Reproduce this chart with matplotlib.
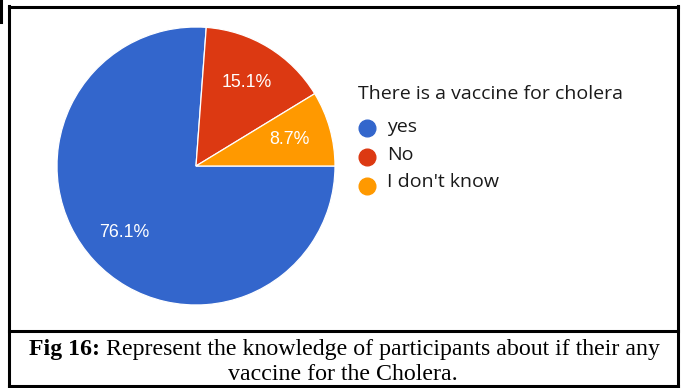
import matplotlib
matplotlib.use("Agg")
import matplotlib.pyplot as plt
from matplotlib.lines import Line2D
import numpy as np

# survey answers
answers = ["yes", "No", "I don't know"]
shares = [76.1, 15.1, 8.7]
colors = ["#3366CC", "#DC3912", "#FF9900"]
legend_title = "There is a vaccine for cholera"
caption_bold = "Fig 16:"
caption_rest = " Represent the knowledge of participants about if their any"
caption_line2 = "vaccine for the Cholera."

W, H = 681, 388
fig = plt.figure(figsize=(W / 100, H / 100), dpi=100)


def fx(px):
    return px / W


def fy(py):
    return 1 - py / H


# pie: centre (196,166), radius 139 px
cx, cy, r = 196, 166, 139
ax = fig.add_axes([fx(cx - r), fy(cy + r), 2 * r / W, 2 * r / H])
wedges, _ = ax.pie(shares, colors=colors, startangle=0, counterclock=False,
                   radius=1.0,
                   wedgeprops=dict(edgecolor="white", linewidth=0.9))
ax.set_xlim(-1, 1)
ax.set_ylim(-1, 1)
ax.set_aspect("equal")
ax.axis("off")

for w, v in zip(wedges, shares):
    mid = np.deg2rad((w.theta1 + w.theta2) / 2)
    ax.text(0.70 * np.cos(mid), 0.70 * np.sin(mid), f"{v}%",
            ha="center", va="center", color="white",
            fontsize=12.8, family="Liberation Sans")

# legend
fig.text(fx(358), fy(94), legend_title, ha="left", va="center",
         fontsize=14, family="Open Sans", color="#1a1a1a")
leg_y = [127, 155, 182]
dot_y = [128, 157, 186]
for name, col, ty, dy in zip(answers, colors, leg_y, dot_y):
    fig.add_artist(Line2D([fx(367)], [fy(dy)], marker="o", markersize=12,
                          color=col, linestyle="none",
                          transform=fig.transFigure))
    fig.text(fx(387), fy(ty), name, ha="left", va="center",
             fontsize=14, family="Open Sans", color="#1a1a1a")

# table frame
lw = 2.2
frame = [
    ((9, 9), (6, 387)),
    ((678, 678), (6, 387)),
    ((9, 678), (7, 7)),
    ((9, 678), (331, 331)),
    ((9, 678), (386, 386)),
    ((1, 1), (0, 22)),
]
for xs, ys in frame:
    fig.add_artist(Line2D([fx(x) for x in xs], [fy(y) for y in ys],
                          color="black", linewidth=lw,
                          transform=fig.transFigure))

# caption, first line in two parts (bold label + plain text)
cap_font = dict(family="Liberation Serif", fontsize=17.2, color="black")
renderer = fig.canvas.get_renderer()
t1 = fig.text(0, fy(350), caption_bold, ha="left", va="center",
              fontweight="bold", **cap_font)
t2 = fig.text(0, fy(350), caption_rest, ha="left", va="center", **cap_font)
w1 = t1.get_window_extent(renderer).width
w2 = t2.get_window_extent(renderer).width
x0 = 345 - (w1 + w2) / 2
t1.set_x(fx(x0))
t2.set_x(fx(x0 + w1))
fig.text(fx(343), fy(374), caption_line2, ha="center", va="center", **cap_font)

fig.savefig("out.png", dpi=100)
